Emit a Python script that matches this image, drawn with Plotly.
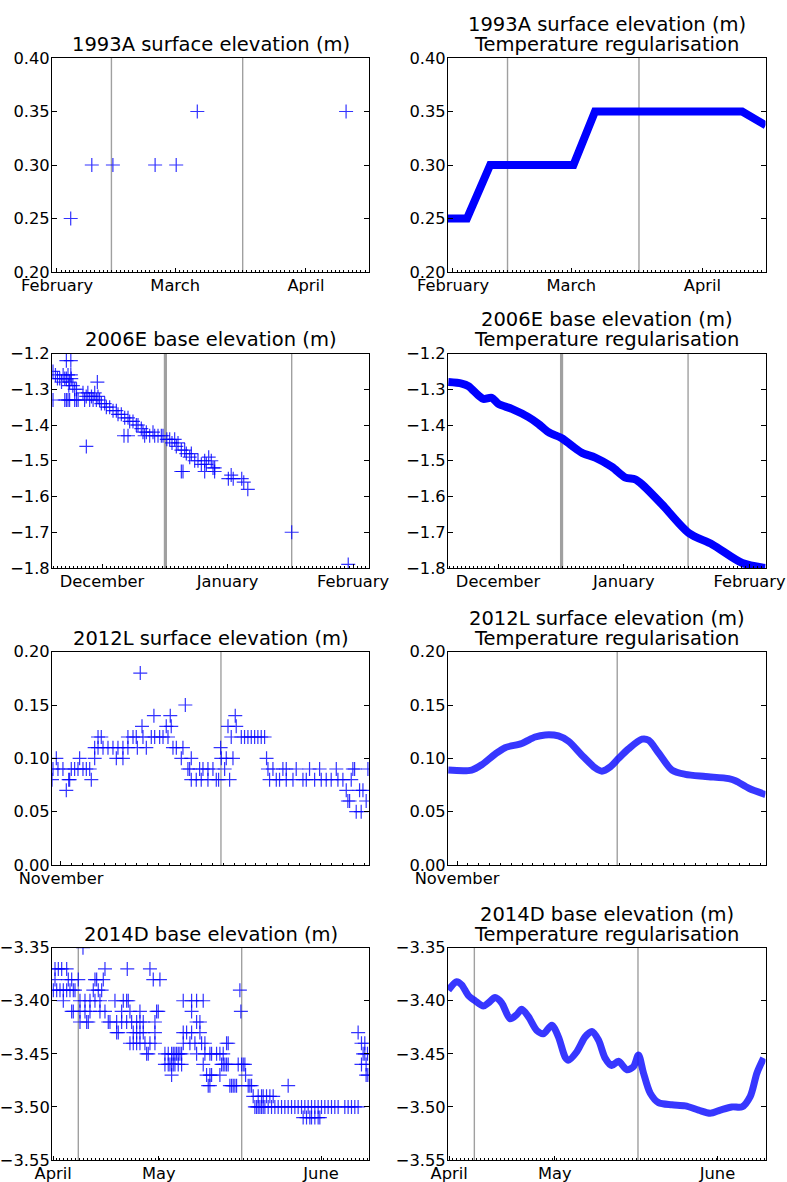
import plotly.graph_objects as go
from plotly.subplots import make_subplots

# ---------------- 1993A surface elevation (days since 1 Feb 1993) ----------------
obs1993_day = [3.25, 8.25, 13.25, 23.25, 28.25, 33.25, 68.5]
obs1993_val = [0.25, 0.30, 0.30, 0.30, 0.30, 0.35, 0.35]
reg1993_day = [-1.2, 3.3, 8.8, 28.5, 33.6, 68.4, 74.0]
reg1993_val = [0.25, 0.25, 0.30, 0.30, 0.35, 0.35, 0.337]
months1993 = ["February", "March", "April"]
monthday1993 = [0, 28, 59]
events1993 = [12.9, 44.0]

# ---------------- 2006E base elevation (days since 1 Dec 2006) ----------------
obs2006_day = [
    -12.1, -11.5, -11.0, -10.45, -10.0, -9.6, -9.2, -8.8, -8.4, -8.2, -8.0, -7.7, -7.6, -7.2, -6.75, -6.3,
    -8.8, -7.7,
    -12.1, -9.2, -8.8, -8.4, -8.0, -6.75, -6.3, -5.9, -4.3, -3.05, -2.2, -1.4,
    -3.87, -1.15,
    -4.7, -3.9, -3.5, -2.6, -1.8, -1.0, -0.6,
    -0.16, 0.66, 1.07, 1.89, 2.72, 3.54, 3.95, 4.77, 5.6, 6.42, 6.83, 7.65, 8.48, 8.89, 9.71, 10.12,
    10.95, 11.77, 12.59, 13.0, 13.83, 14.65, 15.06,
    5.43, 6.42, 10.53,
    16.0, 16.71, 17.28, 17.94, 18.35, 18.77, 19.59, 20.41, 20.82, 21.65, 22.06, 22.88, 23.7, 24.53,
    25.35, 25.76, 26.34, 26.99, 27.41, 27.82, 25.35, 27.8,
    19.59, 20.0,
    31.2, 31.9, 32.4, 34.5, 35.0, 36.0,
    46.84, 60.8,
]
obs2006_val = [
    -1.25, -1.26, -1.27, -1.27, -1.28, -1.26, -1.27, -1.27, -1.26, -1.29, -1.28, -1.26, -1.27, -1.29, -1.30, -1.30,
    -1.22, -1.22,
    -1.33, -1.33, -1.33, -1.33, -1.33, -1.33, -1.33, -1.33, -1.33, -1.33, -1.33, -1.33,
    -1.46, -1.28,
    -1.31, -1.32, -1.31, -1.32, -1.31, -1.32, -1.33,
    -1.34, -1.34, -1.35, -1.35, -1.36, -1.36, -1.37, -1.37, -1.38, -1.38, -1.39, -1.39, -1.40, -1.40, -1.41, -1.42,
    -1.42, -1.43, -1.42, -1.43, -1.43, -1.43, -1.43,
    -1.43, -1.43, -1.43,
    -1.44, -1.44, -1.45, -1.44, -1.46, -1.45, -1.47, -1.47, -1.48, -1.49, -1.48, -1.50, -1.50, -1.51,
    -1.50, -1.51, -1.49, -1.50, -1.52, -1.52, -1.53, -1.53,
    -1.53, -1.53,
    -1.55, -1.54, -1.55, -1.55, -1.56, -1.58,
    -1.70, -1.79,
]
reg2006_day = [-12.26, -8.97, -7.33, -4.86, -3.62, -1.56, 0.08, 3.38, 7.49, 9.96, 12.43, 15.72, 18.2,
               20.7, 23.95, 28.07, 31.4, 33.8, 35.5, 40.4, 47.0, 52.8, 60.2, 65.9]
reg2006_val = [-1.280, -1.284, -1.291, -1.317, -1.327, -1.324, -1.341, -1.355, -1.378, -1.397, -1.420,
               -1.437, -1.458, -1.478, -1.491, -1.517, -1.547, -1.552, -1.566, -1.622, -1.702, -1.734,
               -1.786, -1.800]
months2006 = ["December", "January", "February"]
monthday2006 = [0, 31, 62]
events2006 = [15.65, 46.84]

# ---------------- 2012L surface elevation (days since 1 Nov 2012) ----------------
obs2012_day = [
    -0.83, -0.43, -0.74, -0.28, 0.18, 0.71, 0.49, 0.8,
    0.95, 1.26, 1.57, 2.03, 2.34, 2.65, 1.72, 2.8, 3.11,
    3.11, 3.42, 3.88, 4.34, 4.8, 5.26, 5.72, 6.18,
    3.42, 3.72, 5.11, 5.72, 6.18, 6.65, 6.95,
    7.32, 7.48, 7.05, 7.88,
    7.57, 8.34, 8.65, 9.11, 9.42, 9.88, 8.58, 10.09, 9.72, 10.18,
    10.34, 10.65, 11.26, 11.48, 11.11, 12.03, 11.72, 11.88, 12.03, 12.49,
    12.8, 13.11, 13.57, 14.03, 12.95, 13.57, 14.34, 14.55,
    14.74, 14.8, 15.26, 15.88, 15.11, 15.57, 15.42, 16.18, 16.09,
    15.72, 16.65, 16.95, 17.26, 17.57, 17.88, 18.18, 18.49, 18.8, 18.98,
    19.11, 19.57, 20.49, 20.8, 21.72, 22.95, 23.88, 25.42, 27.11,
    19.26, 19.88, 20.18, 20.8, 21.42, 22.34, 22.65, 23.42, 24.03, 24.49, 24.95, 25.57, 26.03, 26.8,
    26.34, 26.49, 26.65, 26.95, 27.57, 27.88, 27.26, 27.72, 28.18, 28.34,
]
obs2012_val = [
    0.08, 0.10, 0.09, 0.09, 0.09, 0.08, 0.07, 0.08,
    0.09, 0.09, 0.09, 0.09, 0.09, 0.09, 0.10, 0.08, 0.10,
    0.11, 0.11, 0.11, 0.11, 0.11, 0.11, 0.11, 0.11,
    0.12, 0.12, 0.10, 0.10, 0.12, 0.12, 0.12,
    0.18, 0.13, 0.11, 0.11,
    0.12, 0.12, 0.12, 0.12, 0.12, 0.12, 0.14, 0.14, 0.13, 0.13,
    0.11, 0.11, 0.11, 0.15, 0.10, 0.10, 0.09, 0.09, 0.08, 0.08,
    0.09, 0.09, 0.09, 0.09, 0.08, 0.08, 0.08, 0.08,
    0.11, 0.10, 0.10, 0.10, 0.09, 0.08, 0.13, 0.13, 0.14,
    0.12, 0.12, 0.12, 0.12, 0.12, 0.12, 0.12, 0.12, 0.12, 0.10,
    0.09, 0.09, 0.09, 0.09, 0.09, 0.09, 0.09, 0.09, 0.09,
    0.08, 0.08, 0.08, 0.08, 0.08, 0.08, 0.08, 0.08, 0.08, 0.08, 0.08, 0.08, 0.08, 0.08,
    0.07, 0.06, 0.06, 0.09, 0.07, 0.07, 0.05, 0.05, 0.06, 0.09,
]
reg2012_day = [-0.8, 1.35, 2.28, 3.51, 4.43, 5.97, 7.2, 8.13, 9.35, 10.28, 11.51, 12.74, 13.36, 14.13,
               14.9, 15.82, 17.05, 17.67, 18.59, 19.82, 21.05, 22.9, 25.05, 25.67, 26.9, 28.44]
reg2012_val = [0.089, 0.089, 0.094, 0.104, 0.110, 0.114, 0.120, 0.122, 0.121, 0.116, 0.103, 0.091,
               0.088, 0.092, 0.100, 0.109, 0.118, 0.117, 0.105, 0.089, 0.085, 0.083, 0.081, 0.079,
               0.072, 0.066]
months2012 = ["November"]
monthday2012 = [0]
events2012 = [14.77]

# ---------------- 2014D base elevation (days from start of record) ----------------
obs2014 = {
    -3.35: [7.75],
    -3.37: [0.75, 1.58, 2.42, 3.67, 13.25, 18.83, 24.5],
    -3.38: [0.75, 4.08, 4.92, 6.58, 10.75, 11.17, 12.83, 25.33, 27.0],
    -3.39: [0.33, 1.17, 2.0, 2.83, 3.67, 4.5, 5.33, 5.75, 10.33, 11.58, 12.42, 47.0],
    -3.40: [2.83, 7.0, 8.25, 9.5, 10.75, 12.0, 15.75, 17.83, 18.67, 19.08, 32.83, 34.92, 36.17, 37.83],
    -3.41: [4.92, 5.33, 7.0, 8.25, 9.5, 12.0, 13.25, 17.42, 19.5, 22.0, 26.17, 26.58, 34.92, 47.25],
    -3.42: [7.0, 8.67, 9.08, 14.08, 14.5, 16.17, 17.42, 18.67, 19.92, 21.17, 22.0, 22.83, 25.75, 36.17, 37.0],
    -3.43: [16.17, 16.58, 20.33, 21.17, 22.0, 22.83, 25.75, 32.83, 33.67, 34.92, 37.0, 76.58],
    -3.44: [19.5, 20.33, 21.17, 22.0, 23.25, 24.5, 25.75, 32.83, 34.5, 35.75, 37.42, 38.25, 43.67, 44.08,
            77.42, 78.25],
    -3.45: [23.67, 24.08, 28.25, 29.08, 29.92, 30.33, 30.75, 31.17, 31.58, 32.0, 32.42, 36.17, 38.25, 39.5,
            39.92, 41.17, 42.0, 42.83, 77.83, 78.25, 78.92],
    -3.46: [28.25, 29.08, 29.5, 29.92, 30.33, 30.75, 31.58, 32.42, 37.83, 42.42, 42.83, 43.25, 43.67, 44.08,
            46.58, 47.42, 47.83, 48.25, 77.42, 78.58],
    -3.47: [29.92, 38.67, 39.5, 39.92, 42.0, 48.42, 78.58, 79.0],
    -3.48: [39.08, 39.5, 44.5, 44.92, 45.33, 45.75, 46.17, 49.08, 49.5, 49.92, 59.08],
    -3.49: [50.33, 51.58, 52.42, 52.83, 53.67, 54.5, 55.33],
    -3.50: [50.75, 51.17, 51.58, 52.0, 52.42, 52.83, 53.25, 54.08, 54.92, 55.75, 56.58, 57.42, 58.25, 59.08,
            59.92, 60.75, 61.58, 62.42, 63.25, 64.08, 64.92, 65.75, 66.58, 67.42, 68.25, 69.08, 69.92,
            70.75, 71.58, 73.25, 74.08, 74.92, 75.75, 76.58],
    -3.51: [62.83, 63.67, 64.5, 64.92, 65.75, 66.58, 67.0],
}
obs2014_day = [d for v, ds in obs2014.items() for d in ds]
obs2014_val = [v for v, ds in obs2014.items() for d in ds]
reg2014_day = [0.08, 2.17, 3.42, 5.08, 6.75, 8.83, 10.08, 11.75, 13.42, 15.5, 17.17, 18.42, 20.08, 22.17,
               23.83, 25.92, 27.58, 29.25, 30.08, 32.17, 34.25, 35.92, 37.58, 39.25, 40.92, 42.58, 44.67,
               46.33, 47.58, 48.83, 50.5, 52.58, 55.92, 59.25, 62.58, 65.5, 68.0, 70.92, 73.42, 75.5,
               77.17, 78.83]
reg2014_val = [-3.390, -3.382, -3.385, -3.395, -3.400, -3.405, -3.402, -3.397, -3.402, -3.417, -3.413,
               -3.408, -3.415, -3.428, -3.431, -3.423, -3.434, -3.453, -3.456, -3.448, -3.434, -3.429,
               -3.437, -3.454, -3.461, -3.457, -3.465, -3.462, -3.451, -3.468, -3.487, -3.496, -3.498,
               -3.499, -3.503, -3.506, -3.503, -3.500, -3.500, -3.490, -3.468, -3.454]
months2014 = ["April", "May", "June"]
monthday2014 = [0.3, 26.7, 67.3]
events2014 = [6.58, 47.45]

titles = ["1993A surface elevation (m)", "2006E base elevation (m)",
          "2012L surface elevation (m)", "2014D base elevation (m)"]
subtitle = "Temperature regularisation"

# ---------------- figure ----------------
W, H = 787, 1182
BLUE = "#0000ff"
FONT = "DejaVu Sans"

fig = make_subplots(rows=4, cols=2)

rows = [
    dict(obs=(obs1993_day, obs1993_val), reg=(reg1993_day, reg1993_val), shape="linear",
         xr=[-1.18, 73.93], yr=[0.20, 0.40], dy=0.05, fmt=".2f", ticks=(monthday1993, months1993),
         events=events1993, ev_w=1.4, reg_w=8, reg_col=BLUE),
    dict(obs=(obs2006_day, obs2006_val), reg=(reg2006_day, reg2006_val), shape="spline",
         xr=[-12.35, 65.93], yr=[-1.8, -1.2], dy=0.1, fmt=".1f", ticks=(monthday2006, months2006),
         events=events2006, ev_w=[3.2, 1.4], reg_w=8, reg_col=BLUE),
    dict(obs=(obs2012_day, obs2012_val), reg=(reg2012_day, reg2012_val), shape="spline",
         xr=[-0.83, 28.44], yr=[0.0, 0.20], dy=0.05, fmt=".2f", ticks=(monthday2012, months2012),
         events=events2012, ev_w=1.4, reg_w=7, reg_col="rgba(20,20,255,0.85)"),
    dict(obs=(obs2014_day, obs2014_val), reg=(reg2014_day, reg2014_val), shape="spline",
         xr=[0.0, 79.3], yr=[-3.55, -3.35], dy=0.05, fmt=".2f", ticks=(monthday2014, months2014),
         events=events2014, ev_w=1.4, reg_w=7, reg_col="rgba(20,20,255,0.85)"),
]

# panel placement in pixels: (left, right) per column, (top, bottom) per row
col_px = [(52, 369), (448, 765.5)]
row_px = [(58, 272), (353.5, 568), (651.7, 865), (947.7, 1160)]

marker = dict(symbol="cross-thin", size=10, color=BLUE, opacity=0.8,
              line=dict(width=1.2, color=BLUE))

for r, spec in enumerate(rows, start=1):
    fig.add_trace(go.Scatter(x=spec["obs"][0], y=spec["obs"][1], mode="markers", marker=marker,
                             showlegend=False, cliponaxis=True), row=r, col=1)
    fig.add_trace(go.Scatter(x=spec["reg"][0], y=spec["reg"][1], mode="lines",
                             line=dict(color=spec["reg_col"], width=spec["reg_w"], shape=spec["shape"],
                                       smoothing=0.8),
                             showlegend=False), row=r, col=2)
    top, bot = row_px[r - 1]
    for c in (1, 2):
        idx = (r - 1) * 2 + c
        xa = "xaxis" if idx == 1 else f"xaxis{idx}"
        ya = "yaxis" if idx == 1 else f"yaxis{idx}"
        left, right = col_px[c - 1]
        fig.layout[xa].update(
            domain=[left / W, right / W], range=spec["xr"], showgrid=False, zeroline=False,
            automargin=False, ticklabelstandoff=-2,
            tickmode="array", tickvals=spec["ticks"][0], ticktext=spec["ticks"][1],
            ticks="inside", ticklen=4, tickcolor="black", showline=True, linecolor="black",
            linewidth=1, mirror=True,
            minor=dict(tickmode="linear", tick0=0, dtick=1, ticks="inside", ticklen=2,
                       tickcolor="black", showgrid=False),
        )
        fig.layout[ya].update(
            domain=[1 - bot / H, 1 - top / H], range=spec["yr"], dtick=spec["dy"], tick0=0,
            automargin=False, ticklabelstandoff=-2,
            tickformat=spec["fmt"], showgrid=False, zeroline=False, ticks="inside", ticklen=5,
            tickcolor="black", showline=True, linecolor="black", linewidth=1, mirror="ticks",
        )
        widths = spec["ev_w"] if isinstance(spec["ev_w"], list) else [spec["ev_w"]] * len(spec["events"])
        for ev, w in zip(spec["events"], widths):
            fig.add_shape(type="line", xref=f"x{idx}" if idx > 1 else "x",
                          yref=(f"y{idx}" if idx > 1 else "y") + " domain",
                          x0=ev, x1=ev, y0=0, y1=1, layer="below",
                          line=dict(color="rgb(160,160,160)", width=w))
        # panel titles
        xref = (f"x{idx}" if idx > 1 else "x") + " domain"
        yref = (f"y{idx}" if idx > 1 else "y") + " domain"
        if c == 1:
            fig.add_annotation(text=titles[r - 1], xref=xref, yref=yref, x=0.5, y=1,
                               yanchor="bottom", showarrow=False, yshift=0,
                               font=dict(size=19.5, family=FONT, color="black"))
        else:
            fig.add_annotation(text=subtitle, xref=xref, yref=yref, x=0.5, y=1,
                               yanchor="bottom", showarrow=False, yshift=0,
                               font=dict(size=19.5, family=FONT, color="black"))
            fig.add_annotation(text=titles[r - 1], xref=xref, yref=yref, x=0.5, y=1,
                               yanchor="bottom", showarrow=False, yshift=20,
                               font=dict(size=19.5, family=FONT, color="black"))

fig.update_layout(
    width=W, height=H, margin=dict(l=0, r=0, t=0, b=0),
    paper_bgcolor="white", plot_bgcolor="white",
    font=dict(family=FONT, size=16.3, color="black"),
    showlegend=False,
)

fig.write_html("out.html")
